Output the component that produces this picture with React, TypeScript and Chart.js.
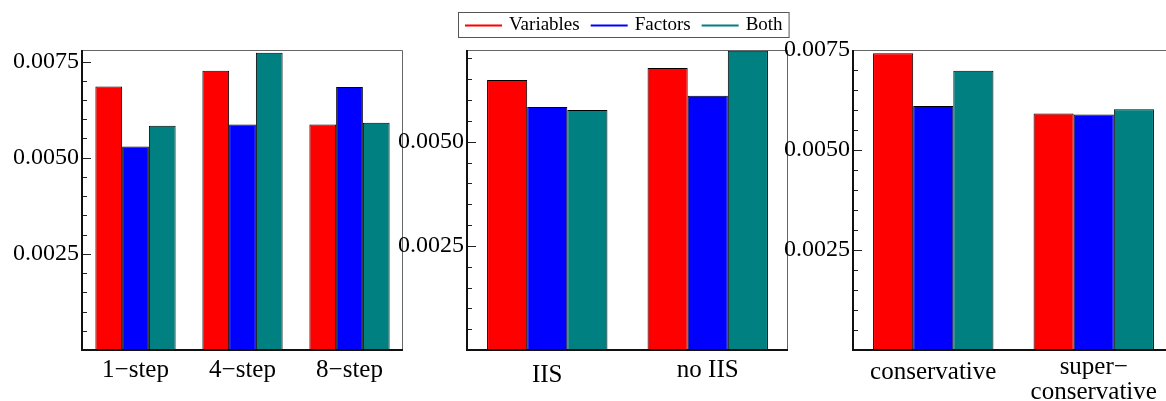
import React, { useEffect, useRef } from 'react';
import { Chart, registerables } from 'chart.js';

Chart.register(...registerables);

// ---- data ----
const seriesNames = ['Variables', 'Factors', 'Both'];
const seriesColors = ['#ff0000', '#0000ff', '#008080'];

const horizonLabels = ['1−step', '4−step', '8−step'];
const horizonVariables = [0.00685, 0.00726, 0.00586];
const horizonFactors = [0.00529, 0.00586, 0.00684];
const horizonBoth = [0.00583, 0.00773, 0.00591];

const iisLabels = ['IIS', 'no IIS'];
const iisVariables = [0.00648, 0.00677];
const iisFactors = [0.00583, 0.0061];
const iisBoth = [0.00576, 0.00718];

const strategyLabels: (string | string[])[] = ['conservative', ['super−', 'conservative']];
const strategyVariables = [0.00742, 0.00591];
const strategyFactors = [0.0061, 0.00589];
const strategyBoth = [0.00698, 0.00602];

const yMaxHorizon = 0.0078;
const yMaxIis = 0.0072;
const yMaxStrategy = 0.0075;
const yMinorStep = 0.0005;
const yLabelStep = 0.0025;

const FONT = '"Liberation Serif", "Times New Roman", serif';

const isMajor = (v: number) => {
  const r = v / yLabelStep;
  return Math.abs(r - Math.round(r)) < 1e-6;
};

const framePlugin = {
  id: 'frame',
  afterDraw(chart: any) {
    const { ctx, chartArea: a, scales } = chart;
    const ys = scales.y;
    ctx.save();
    ctx.strokeStyle = '#222';
    ctx.lineWidth = 1;
    ys.ticks.forEach((t: any) => {
      if (t.value <= 1e-9) return;
      const y = Math.round(ys.getPixelForValue(t.value)) + 0.5;
      const len = isMajor(t.value) ? 9 : 5;
      ctx.beginPath();
      ctx.moveTo(a.left, y);
      ctx.lineTo(a.left + len, y);
      ctx.stroke();
    });
    // top & right (lighter)
    ctx.strokeStyle = '#666';
    ctx.lineWidth = 1;
    ctx.beginPath();
    ctx.moveTo(a.left, a.top + 0.5);
    ctx.lineTo(a.right - 0.5, a.top + 0.5);
    ctx.lineTo(a.right - 0.5, a.bottom);
    ctx.stroke();
    // left & bottom (dark)
    ctx.strokeStyle = '#111';
    ctx.lineWidth = 2;
    ctx.beginPath();
    ctx.moveTo(a.left, a.top);
    ctx.lineTo(a.left, a.bottom);
    ctx.lineTo(a.right, a.bottom);
    ctx.stroke();
    ctx.restore();
  },
};

const makeLegendPlugin = (boxLeft: number, boxTop: number) => ({
  id: 'boxLegend',
  afterDraw(chart: any) {
    const { ctx } = chart;
    const ds = chart.data.datasets;
    ctx.save();
    ctx.font = `19px ${FONT}`;
    ctx.textBaseline = 'middle';
    ctx.textAlign = 'left';
    const h = 25;
    const cy = boxTop + h / 2 + 1;
    let x = boxLeft + 7;
    ds.forEach((d: any, i: number) => {
      ctx.strokeStyle = d.backgroundColor;
      ctx.lineWidth = 2;
      ctx.beginPath();
      ctx.moveTo(x, cy);
      ctx.lineTo(x + 37, cy);
      ctx.stroke();
      x += 44;
      ctx.fillStyle = '#000';
      ctx.fillText(d.label, x, cy);
      x += ctx.measureText(d.label).width;
      if (i < ds.length - 1) x += 11;
    });
    x += 6;
    ctx.strokeStyle = '#555';
    ctx.lineWidth = 1;
    ctx.strokeRect(boxLeft + 0.5, boxTop + 0.5, x - boxLeft, h);
    ctx.restore();
  },
});

type PanelProps = {
  left: number;
  width: number;
  axisWidth: number;
  padRight: number;
  labels: (string | string[])[];
  values: number[][];
  yMax: number;
  labelLineHeights: number[];
  legend?: { left: number; top: number };
};

function Panel({
  left,
  width,
  axisWidth,
  padRight,
  labels,
  values,
  yMax,
  labelLineHeights,
  legend,
}: PanelProps) {
  const ref = useRef<HTMLCanvasElement>(null);
  useEffect(() => {
    if (!ref.current) return;
    const plugins: any[] = [framePlugin];
    if (legend) plugins.push(makeLegendPlugin(legend.left, legend.top));
    const chart = new Chart(ref.current, {
      type: 'bar',
      data: {
        labels: labels as any,
        datasets: values.map((v, i) => ({
          label: seriesNames[i],
          data: v,
          backgroundColor: seriesColors[i],
          borderColor: '#000',
          borderWidth: 1,
          categoryPercentage: 0.75,
          barPercentage: 1.0,
        })),
      },
      options: {
        animation: false,
        responsive: false,
        events: [],
        layout: { padding: { top: 50, right: padRight, left: 0, bottom: 0 } },
        plugins: { legend: { display: false }, tooltip: { enabled: false } },
        scales: {
          x: {
            grid: { display: false, drawTicks: false },
            border: { display: false },
            ticks: {
              color: '#000',
              font: (c: any) => ({
                family: FONT,
                size: 25,
                lineHeight: (labelLineHeights[c.index] ?? 30) / 25,
              }),
              padding: 5,
              maxRotation: 0,
              autoSkip: false,
            },
            afterFit: (s: any) => {
              s.height = 51;
            },
          },
          y: {
            min: 0,
            max: yMax,
            grid: { display: false, drawTicks: false },
            border: { display: false },
            ticks: {
              stepSize: yMinorStep,
              includeBounds: false,
              autoSkip: false,
              color: '#000',
              padding: 3,
              font: { family: FONT, size: 24 },
              callback: (v: any) => {
                const n = Number(v);
                return n > 1e-9 && isMajor(n) ? n.toFixed(4) : '';
              },
            },
            afterFit: (s: any) => {
              s.width = axisWidth;
            },
          },
        },
      },
      plugins,
    } as any);
    return () => chart.destroy();
  }, []);
  return (
    <div style={{ position: 'absolute', left, top: 0, width, height: 401 }}>
      <canvas ref={ref} width={width} height={401} style={{ display: 'block' }} />
    </div>
  );
}

export default function App() {
  return (
    <div
      style={{
        position: 'fixed',
        left: 0,
        top: 0,
        width: 1166,
        height: 401,
        overflow: 'hidden',
        background: '#fff',
      }}
    >
      <Panel
        left={0}
        width={410}
        axisWidth={82}
        padRight={7}
        labels={horizonLabels}
        values={[horizonVariables, horizonFactors, horizonBoth]}
        yMax={yMaxHorizon}
        labelLineHeights={[30, 30, 30]}
      />
      <Panel
        left={385}
        width={410}
        axisWidth={82}
        padRight={7}
        labels={iisLabels}
        values={[iisVariables, iisFactors, iisBoth]}
        yMax={yMaxIis}
        labelLineHeights={[41, 30]}
        legend={{ left: 73, top: 12 }}
      />
      <Panel
        left={770}
        width={411}
        axisWidth={83}
        padRight={7}
        labels={strategyLabels}
        values={[strategyVariables, strategyFactors, strategyBoth]}
        yMax={yMaxStrategy}
        labelLineHeights={[35, 25]}
      />
    </div>
  );
}
